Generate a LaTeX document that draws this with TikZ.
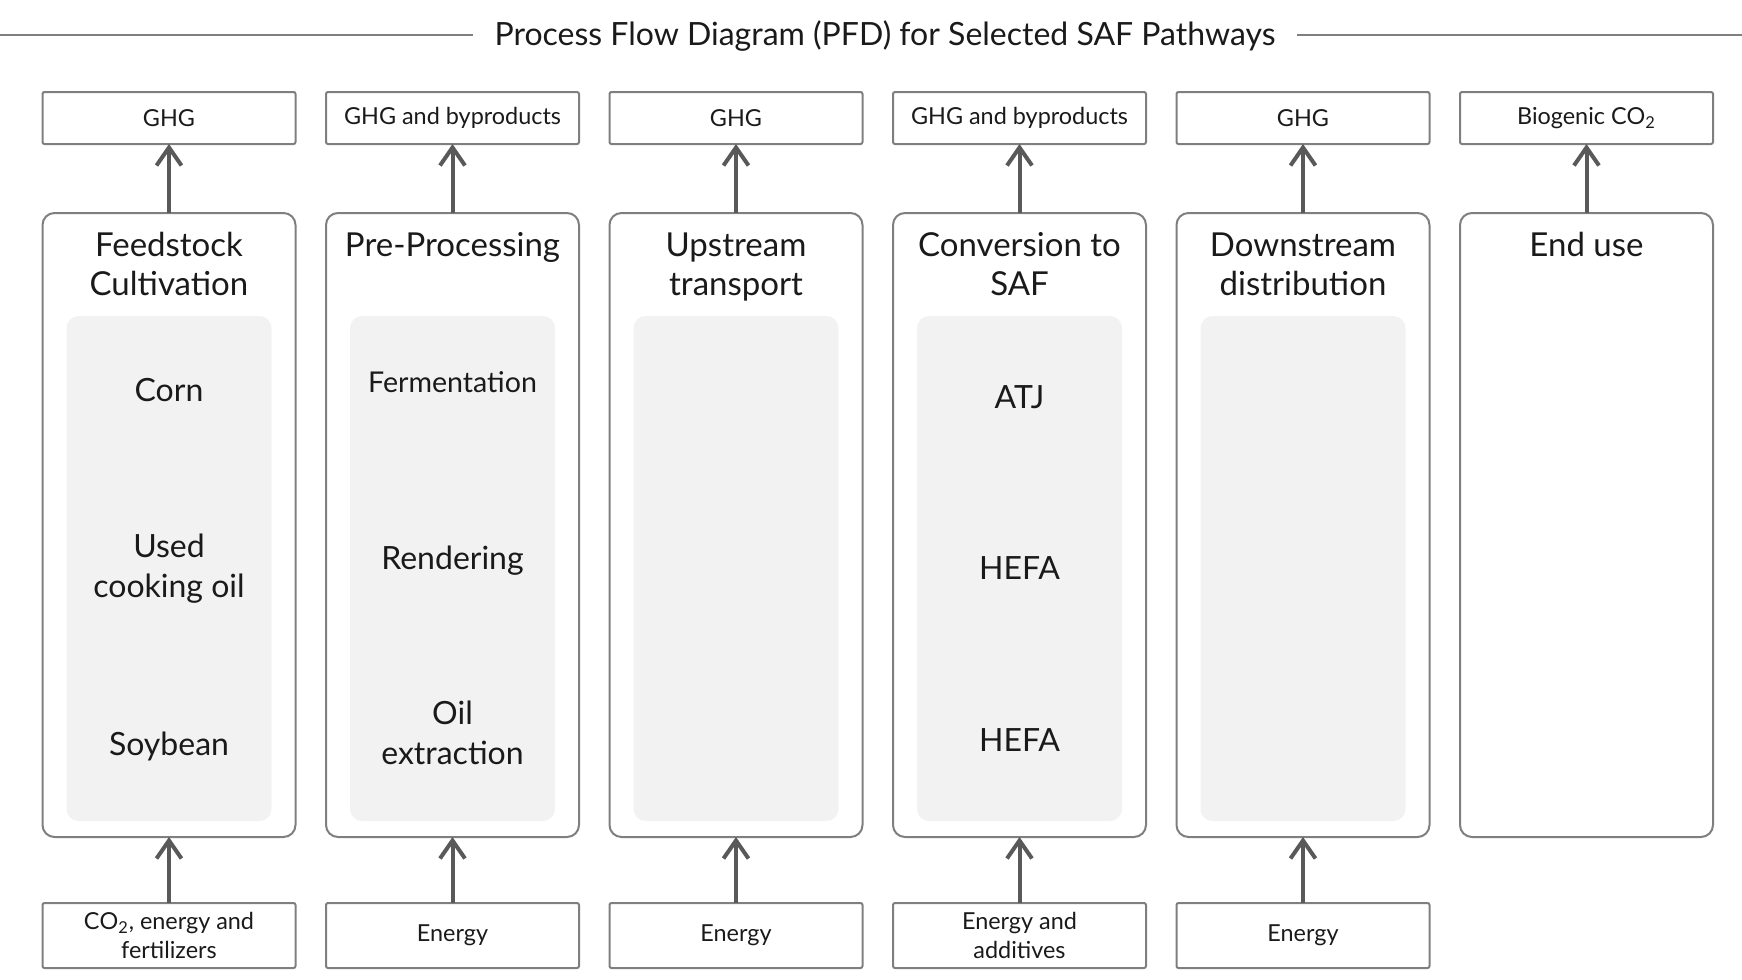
\documentclass[tikz,border=0pt]{standalone}
\usepackage{fontspec}
\setmainfont{Lato}
\usetikzlibrary{positioning,arrows.meta}

\definecolor{boxgray}{HTML}{7F7F7F}
\definecolor{arrowgray}{HTML}{595959}
\definecolor{panelgray}{HTML}{F2F2F2}
\definecolor{inkgray}{HTML}{1A1A1A}

\tikzstyle{stage} = [rectangle, rounded corners=6pt, minimum width=126.5pt, minimum height=312pt, draw=boxgray, line width=1pt, outer sep=0pt, inner sep=0pt]
\tikzstyle{panel} = [rectangle, rounded corners=6pt, minimum width=102.5pt, minimum height=252.5pt, fill=panelgray, draw=none, outer sep=0pt, inner sep=0pt]
\tikzstyle{emitbox} = [rectangle, rounded corners=1pt, minimum width=126.5pt, minimum height=26pt, draw=boxgray, line width=1pt, outer sep=0pt, inner sep=0pt, align=center, text=inkgray, font=\fontsize{11.7}{14.5}\selectfont]
\tikzstyle{inputbox} = [emitbox, minimum height=32.5pt]
\tikzstyle{head} = [align=center, inner sep=0pt, text=inkgray, font=\fontsize{16.5}{19.5}\selectfont]
\tikzstyle{item} = [align=center, inner sep=0pt, text=inkgray, font=\fontsize{16}{20}\selectfont]
\tikzstyle{flow} = [-{Straight Barb[length=9pt,width=12.5pt]}, draw=arrowgray, line width=2pt]

\begin{document}
\begin{tikzpicture}[x=0.5pt,y=-0.5pt]
\useasboundingbox (0,0) rectangle (1742,980);

% title with rules on both sides
\node[inner xsep=10.5pt, inner ysep=0pt, text=inkgray, font=\fontsize{16}{19}\selectfont] (Title) at (885,36.5) {Process Flow Diagram (PFD) for Selected SAF Pathways};
\coordinate (RuleLeft) at (0,34.5);
\coordinate (RuleRight) at (1742,34.5);
\draw[boxgray, line width=1pt] (RuleLeft) -- (RuleLeft -| Title.west);
\draw[boxgray, line width=1pt] (RuleRight -| Title.east) -- (RuleRight);

% stages
\node[stage] (StageFeedstock) at (169,525) {};
\node[stage] (StagePre) [right=15.25pt of StageFeedstock] {};
\node[stage] (StageUpstream) [right=15.25pt of StagePre] {};
\node[stage] (StageConversion) [right=15.25pt of StageUpstream] {};
\node[stage] (StageDownstream) [right=15.25pt of StageConversion] {};
\node[stage] (StageEnd) [right=15.25pt of StageDownstream] {};

\node[head, below=9.5pt of StageFeedstock.north] (HeadFeedstock) {Feedstock\\Cultivation};
\node[head, below=9.5pt of StagePre.north] (HeadPre) {Pre-Processing};
\node[head, below=9.5pt of StageUpstream.north] (HeadUpstream) {Upstream\\transport};
\node[head, below=9.5pt of StageConversion.north] (HeadConversion) {Conversion to\\SAF};
\node[head, below=9.5pt of StageDownstream.north] (HeadDownstream) {Downstream\\distribution};
\node[head, below=9.5pt of StageEnd.north] (HeadEnd) {End use};

% grey panels
\node[panel, below=51.5pt of StageFeedstock.north] (PanelFeedstock) {};
\node[panel, below=51.5pt of StagePre.north] (PanelPre) {};
\node[panel, below=51.5pt of StageUpstream.north] (PanelUpstream) {};
\node[panel, below=51.5pt of StageConversion.north] (PanelConversion) {};
\node[panel, below=51.5pt of StageDownstream.north] (PanelDownstream) {};

\node[item, yshift=89pt] (ItemCorn) at (PanelFeedstock.center) {Corn};
\node[item] (ItemOil) at (PanelFeedstock.center) {Used\\cooking oil};
\node[item, yshift=-89pt] (ItemSoybean) at (PanelFeedstock.center) {Soybean};

\node[item, yshift=93pt, font=\fontsize{14.3}{17}\selectfont] (ItemFermentation) at (PanelPre.center) {Fermentation};
\node[item, yshift=4pt] (ItemRendering) at (PanelPre.center) {Rendering};
\node[item, yshift=-82pt] (ItemExtraction) at (PanelPre.center) {Oil\\extraction};

\node[item, yshift=85.5pt] (ItemAtj) at (PanelConversion.center) {ATJ};
\node[item] (ItemHefa) at (PanelConversion.center) {HEFA};
\node[item, yshift=-86pt] (ItemHefaSoy) at (PanelConversion.center) {HEFA};

% emissions on top
\node[emitbox, above=34.5pt of StageFeedstock] (GhgFeedstock) {GHG};
\node[emitbox, above=34.5pt of StagePre] (GhgPre) {GHG and byproducts};
\node[emitbox, above=34.5pt of StageUpstream] (GhgUpstream) {GHG};
\node[emitbox, above=34.5pt of StageConversion] (GhgConversion) {GHG and byproducts};
\node[emitbox, above=34.5pt of StageDownstream] (GhgDownstream) {GHG};
\node[emitbox, above=34.5pt of StageEnd] (GhgEnd) {Biogenic $\mathrm{CO_2}$};

% inputs at the bottom
\node[inputbox, below=33pt of StageFeedstock] (InputFeedstock) {$\mathrm{CO_2}$, energy and\\fertilizers};
\node[inputbox, below=33pt of StagePre] (InputPre) {Energy};
\node[inputbox, below=33pt of StageUpstream] (InputUpstream) {Energy};
\node[inputbox, below=33pt of StageConversion] (InputConversion) {Energy and\\additives};
\node[inputbox, below=33pt of StageDownstream] (InputDownstream) {Energy};

\path[flow]
    (StageFeedstock) edge (GhgFeedstock)
    (StagePre) edge (GhgPre)
    (StageUpstream) edge (GhgUpstream)
    (StageConversion) edge (GhgConversion)
    (StageDownstream) edge (GhgDownstream)
    (StageEnd) edge (GhgEnd)
    (InputFeedstock) edge (StageFeedstock)
    (InputPre) edge (StagePre)
    (InputUpstream) edge (StageUpstream)
    (InputConversion) edge (StageConversion)
    (InputDownstream) edge (StageDownstream)
    ;

\end{tikzpicture}
\end{document}
